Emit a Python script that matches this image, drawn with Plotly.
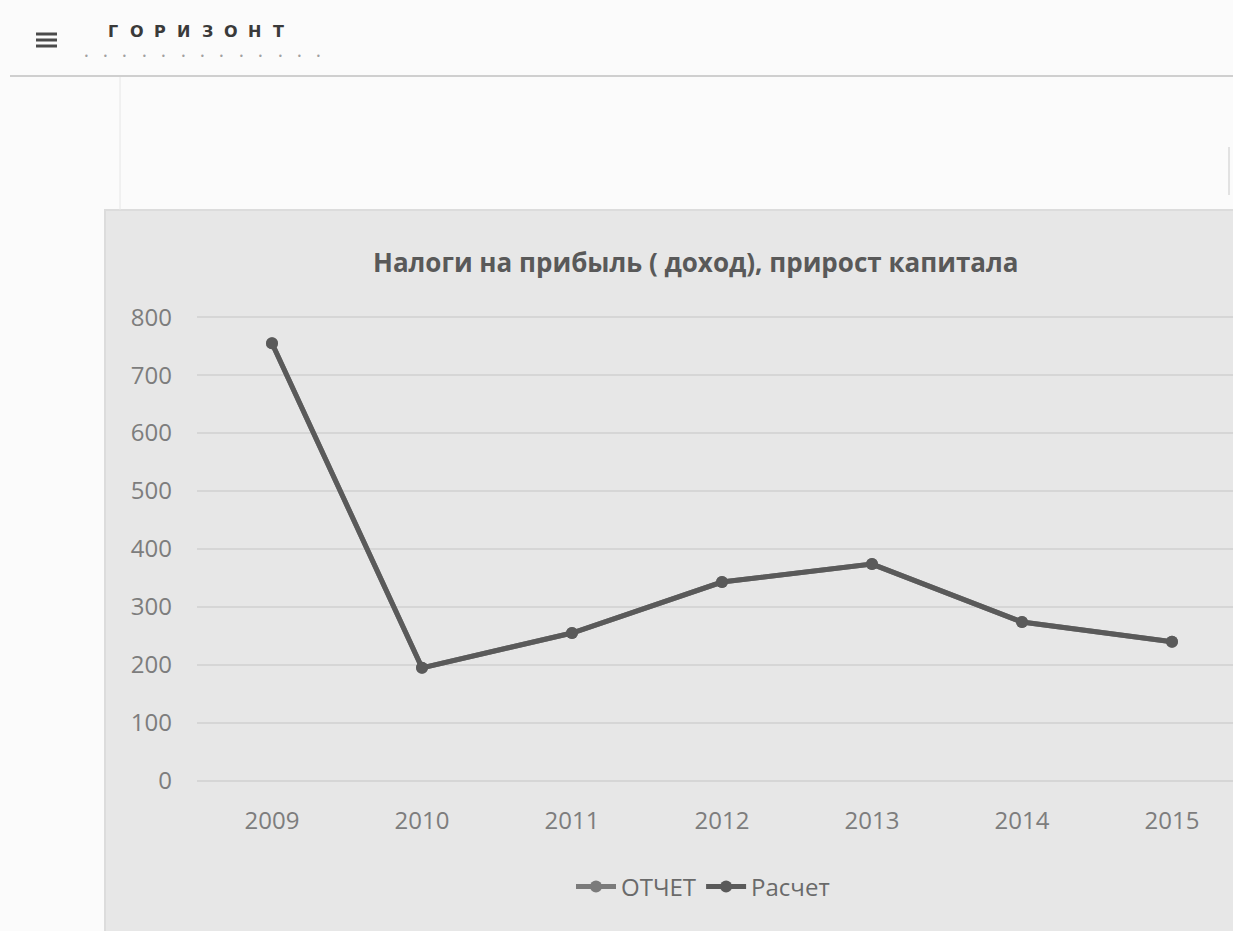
import plotly.graph_objects as go

years = [2009, 2010, 2011, 2012, 2013, 2014, 2015]
otchet = [755, 195, 255, 343, 374, 274, 240]
raschet = [755, 195, 255, 343, 374, 274, 240]
y_ticks = [0, 100, 200, 300, 400, 500, 600, 700, 800]
title_text = "Налоги на прибыль ( доход), прирост капитала"
brand = "ГОРИЗОНТ"

W, H = 1233, 931
L, R_PX, T, B_PX = 197, 1233, 316, 782
Y0, Y1 = -2, 802


def px(x):
    return (x - L) / (R_PX - L)


def py(y):
    return (B_PX - y) / (B_PX - T)


fig = go.Figure()
fig.add_trace(go.Scatter(
    x=years, y=otchet, name="ОТЧЕТ", mode="lines+markers",
    line=dict(color="#7b7b7b", width=5), marker=dict(size=12, color="#7b7b7b"),
))
fig.add_trace(go.Scatter(
    x=years, y=raschet, name="Расчет", mode="lines+markers",
    line=dict(color="#5a5a5a", width=5), marker=dict(size=12, color="#5a5a5a"),
))

shapes = [
    # gray chart box
    dict(type="rect", xref="paper", yref="paper", x0=px(105), x1=px(1240), y0=py(210), y1=py(940),
         fillcolor="#e7e7e7", line=dict(color="#dcdcdc", width=2), layer="below"),
    # header line
    dict(type="line", xref="paper", yref="paper", x0=px(10), x1=px(1240), y0=py(76), y1=py(76),
         line=dict(color="#cfcfcf", width=2), layer="below"),
    # vertical line
    dict(type="line", xref="paper", yref="paper", x0=px(120), x1=px(120), y0=py(77), y1=py(210),
         line=dict(color="#e6e6e6", width=1), layer="below"),
    # right edge small bar
    dict(type="line", xref="paper", yref="paper", x0=px(1229), x1=px(1229), y0=py(147), y1=py(195),
         line=dict(color="#e2e2e2", width=2), layer="below"),
]
for yy in (34, 40, 46):
    shapes.append(dict(type="line", xref="paper", yref="paper", x0=px(36), x1=px(57), y0=py(yy), y1=py(yy),
                       line=dict(color="#4a4a4a", width=3)))

annotations = [
    dict(text="<b>" + title_text + "</b>", xref="paper", yref="paper", x=px(695), y=py(262),
         xanchor="center", yanchor="middle", showarrow=False,
         font=dict(size=26, color="#595959", family="Open Sans, sans-serif")),
]
for i in range(13):
    annotations.append(dict(text="•", xref="paper", yref="paper",
                            x=px(86 + i * 19.4), y=py(56), xanchor="center", yanchor="middle",
                            showarrow=False, font=dict(size=8, color="#a0a0a0", family="DejaVu Sans")))
for i, ch in enumerate(brand):
    annotations.append(dict(text="<b>" + ch + "</b>", xref="paper", yref="paper",
                            x=px(113 + i * 23.6), y=py(32), xanchor="center", yanchor="middle",
                            showarrow=False, font=dict(size=16, color="#3a3a3a", family="DejaVu Sans")))

fig.update_layout(
    width=W, height=H,
    margin=dict(l=L, r=W - R_PX, t=T, b=H - B_PX, pad=0),
    paper_bgcolor="#fbfbfb",
    plot_bgcolor="rgba(0,0,0,0)",
    font=dict(family="Open Sans, sans-serif", color="#7a7a7a", size=24),
    xaxis=dict(range=[2008.5, 2008.5 + (R_PX - L) / 150.0], tickvals=years,
               ticktext=[str(y) for y in years], showgrid=False, zeroline=False,
               showline=False, ticks="", ticklabelstandoff=22, fixedrange=True,
               tickfont=dict(size=24, color="#7d7d7d")),
    yaxis=dict(range=[Y0, Y1], tickvals=y_ticks, showgrid=True, gridcolor="#d6d6d6",
               gridwidth=1.5, zeroline=False, showline=False, ticks="",
               ticklabelstandoff=24, fixedrange=True,
               tickfont=dict(size=24, color="#7d7d7d")),
    showlegend=True,
    legend=dict(orientation="h", x=px(703), xanchor="center", y=py(887), yanchor="middle",
                bgcolor="rgba(0,0,0,0)", font=dict(size=24, color="#6a6a6a"),
                itemwidth=40, tracegroupgap=0),
    shapes=shapes,
    annotations=annotations,
)

fig.write_html("out.html")
